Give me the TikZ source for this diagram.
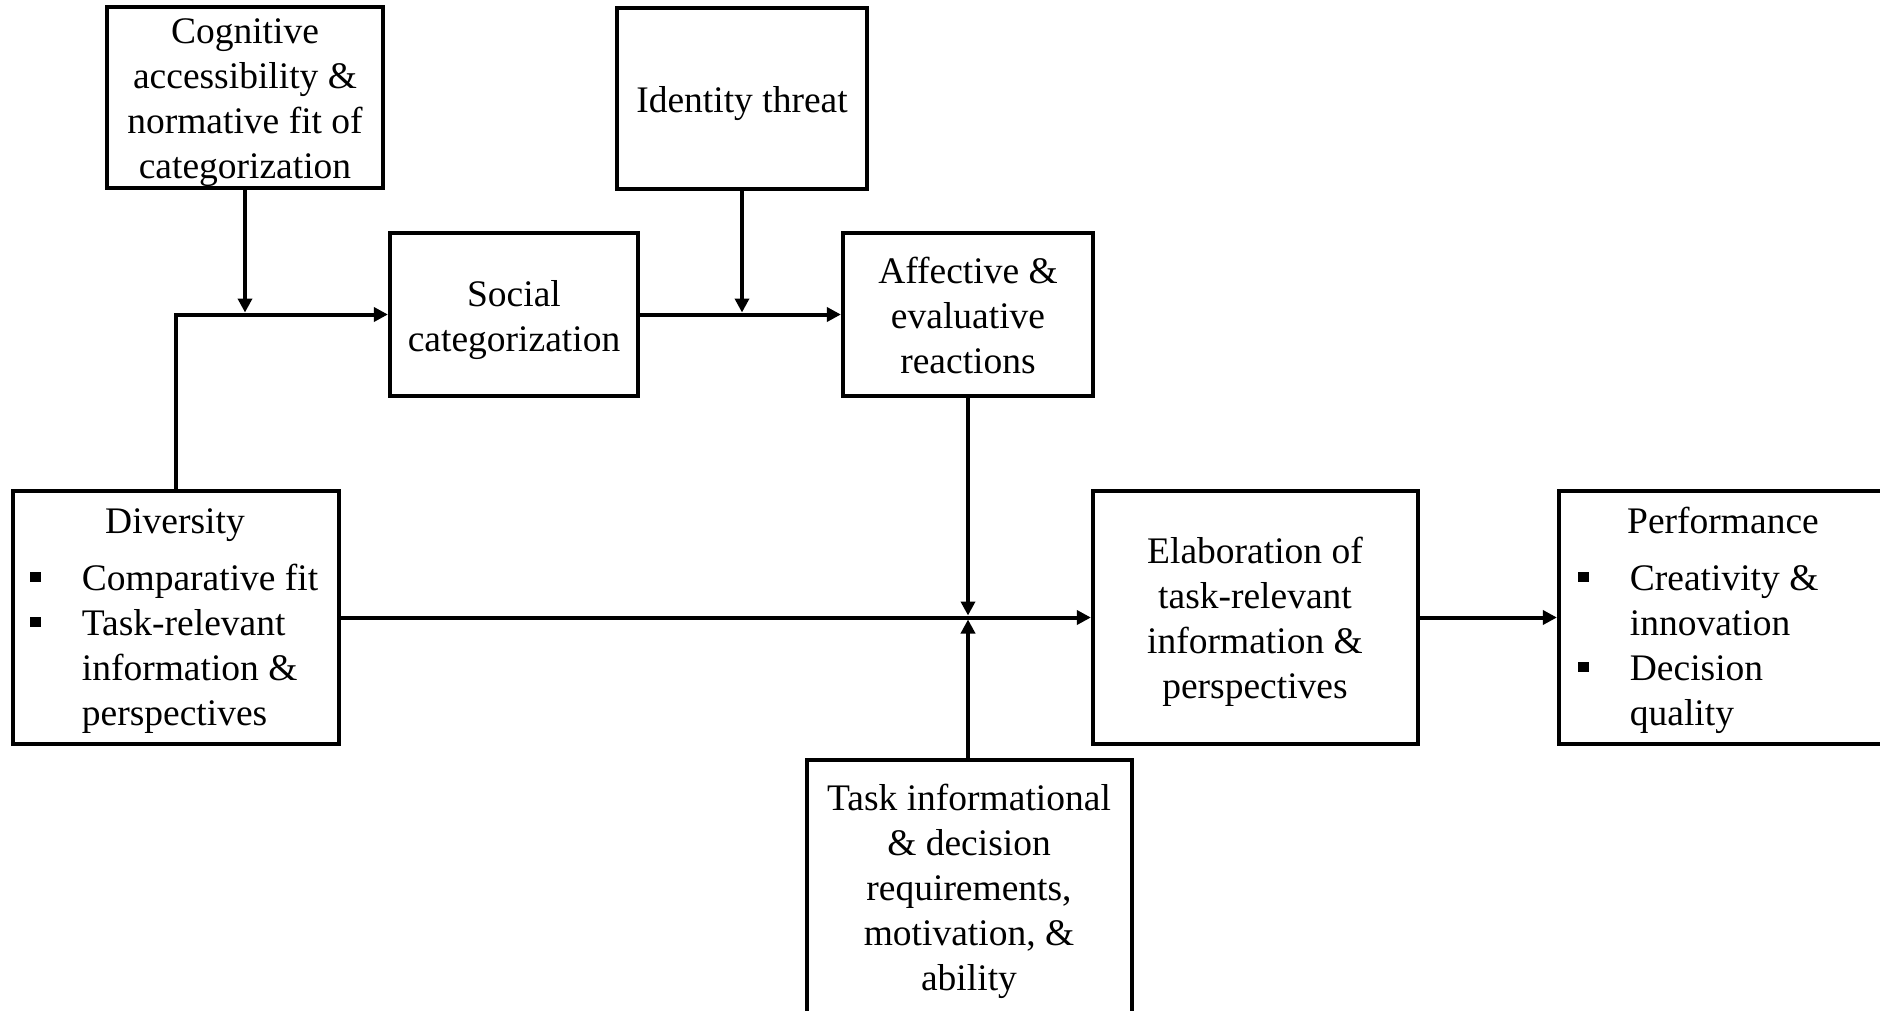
\documentclass[tikz,border=0pt]{standalone}
\usepackage{fontspec}
\setmainfont{Liberation Serif}
\usetikzlibrary{arrows.meta,fit}

% stacked, centred lines whose baseline is the first line
\newcommand{\centerlines}[1]{\begin{tabular}[t]{@{}c@{}}#1\end{tabular}}
% bulleted list, baseline at the first line
\newcommand{\sqbullet}{\rule[3.9pt]{5.25pt}{5.25pt}}
\newcommand{\bulletlines}[1]{\begin{tabular}[t]{@{}l@{\hspace{20.5pt}}l@{}}#1\end{tabular}}

\begin{document}
\begin{tikzpicture}[x=0.5pt,y=-0.5pt,
  box/.style={draw, line width=2.1pt, inner sep=0pt, rectangle},
  txt/.style={font=\fontsize{18.75}{22.5}\selectfont, inner sep=0pt, anchor=base},
  conn/.style={line width=2pt},
  arr/.style={conn, -{Triangle[length=7pt,width=7pt]}}]

\useasboundingbox (0,0) rectangle (1880,1011);
\clip (0,0) rectangle (1880,1011);

% boxes
\node[box, fit={(107,7) (383,188)}]    (cog) {};
\node[box, fit={(617,8) (867,189)}]    (idt) {};
\node[box, fit={(390,233) (638,396)}]  (soc) {};
\node[box, fit={(843,233) (1093,396)}] (aff) {};
\node[box, fit={(13,491) (339,744)}]   (div) {};
\node[box, fit={(1093,491) (1418,744)}] (ela) {};
\node[box, fit={(1559,491) (1900,744)}] (perf) {};
\node[box, fit={(807,760) (1132,1030)}] (task) {};

% texts
\node[txt] (cogT) at (245,44) {\centerlines{Cognitive\\accessibility \&\\normative fit of\\categorization}};
\node[txt] (idtT) at (742,113) {Identity threat};
\node[txt] (socT) at (514,306) {\centerlines{Social\\categorization}};
\node[txt] (affT) at (968,283) {\centerlines{Affective \&\\evaluative\\reactions}};
\node[txt] (elaT) at (1255,563) {\centerlines{Elaboration of\\task-relevant\\information \&\\perspectives}};
\node[txt] (taskT) at (969,810) {\centerlines{Task informational\\\& decision\\requirements,\\motivation, \&\\ability}};

\node[txt] (divH) at (175,533) {Diversity};
\node[txt, anchor=base west] (divL) at (30,590)
  {\bulletlines{\sqbullet & Comparative fit\\ \sqbullet & Task-relevant\\ & information \&\\ & perspectives}};

\node[txt] (perfH) at (1723,533) {Performance};
\node[txt, anchor=base west] (perfL) at (1578,590)
  {\bulletlines{\sqbullet & Creativity \&\\ & innovation\\ \sqbullet & Decision\\ & quality}};

% junction points on the connectors
\coordinate (j1) at (cog.south |- soc.west);
\coordinate (j2) at (idt.south |- soc.east);
\coordinate (j3) at (aff.south |- div.east);

% connectors
\draw[arr] (div.north) |- (soc.west);
\draw[arr, shorten >=1pt] (cog.south) -- (j1);
\draw[arr] (soc.east) -- (aff.west);
\draw[arr, shorten >=1pt] (idt.south) -- (j2);
\draw[arr] (div.east) -- (ela.west);
\draw[arr, shorten >=1pt] (aff.south) -- (j3);
\draw[arr, shorten >=1pt] (task.north -| j3) -- (j3);
\draw[arr] (ela.east) -- (perf.west);

\end{tikzpicture}
\end{document}
